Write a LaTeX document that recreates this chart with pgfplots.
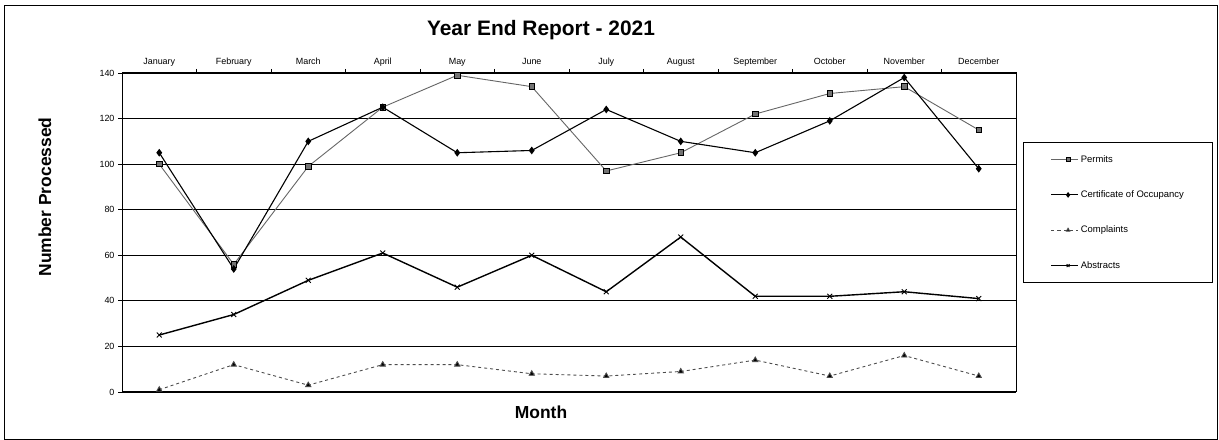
\documentclass[border=0pt]{standalone}
\usepackage{fontspec}
\setmainfont{Liberation Sans}
\usepackage{pgfplots}
\pgfplotsset{compat=1.18}
\begin{document}
\begin{tikzpicture}
\useasboundingbox (0bp,0bp) rectangle (1219bp,440bp);
\draw[line width=0.8bp] (4bp,1bp) rectangle (1217bp,435bp);
\node[font=\fontsize{21}{24}\selectfont\bfseries] at (541bp,410bp) {Year End Report - 2021};
\node[font=\fontsize{17.5}{20}\selectfont\bfseries, rotate=90] at (45bp,243bp) {Number Processed};
\node[font=\fontsize{17.5}{20}\selectfont\bfseries] at (541bp,28bp) {Month};
\begin{axis}[
  at={(122bp,48bp)}, anchor=south west,
  scale only axis, width=894bp, height=319bp,
  xmin=0.5, xmax=12.5, ymin=0, ymax=140,
  xtick={1,...,12},
  xticklabels={January,February,March,April,May,June,July,August,September,October,November,December},
  xticklabel pos=upper,
  xticklabel style={text height=7bp, text depth=2bp, yshift=-1bp},
  major x tick style={draw=none},
  minor xtick={1.5,2.5,...,11.5},
  xtick pos=upper,
  ytick={0,20,...,140}, ytick pos=left,
  tick align=outside,
  major tick length=4bp, minor tick length=4bp,
  tick style={black, line width=0.8bp},
  ymajorgrids,
  grid style={black, line width=0.9bp},
  axis line style={line width=1bp},
  tick label style={font=\fontsize{9}{10}\selectfont},
  /pgf/number format/assume math mode=true,
  legend style={at={(1.0078,0.7837)}, anchor=north west, draw=black, line width=0.8bp,
    font=\fontsize{9.5}{11}\selectfont, inner xsep=27bp, inner ysep=11bp, row sep=23bp},
  legend cell align=left,
  legend image code/.code={\path (0bp,0bp) -- (7bp,0bp);
    \draw[mark repeat=2,mark phase=2,mark size=2bp,#1] plot coordinates {(7bp,0bp) (17bp,0bp) (27bp,0bp)};},
]
\addplot[black!60, line width=0.9bp, mark=square*, mark size=2.8bp, mark options={solid, fill=black!55, draw=black}]
  coordinates {(1,100) (2,56) (3,99) (4,125) (5,139) (6,134) (7,97) (8,105) (9,122) (10,131) (11,134) (12,115)};
\addlegendentry{Permits}
\addplot[black, line width=1.1bp, mark=diamond*, mark size=3bp, mark options={solid, fill=black}]
  coordinates {(1,105) (2,54) (3,110) (4,125) (5,105) (6,106) (7,124) (8,110) (9,105) (10,119) (11,138) (12,98)};
\addlegendentry{Certificate of Occupancy}
\addplot[black!70, line width=0.9bp, dashed, mark=triangle*, mark size=3bp, mark options={solid, fill=black}]
  coordinates {(1,1) (2,12) (3,3) (4,12) (5,12) (6,8) (7,7) (8,9) (9,14) (10,7) (11,16) (12,7)};
\addlegendentry{Complaints}
\addplot[black, line width=1.4bp, mark=x, mark size=3.5bp, mark options={solid, line width=0.9bp}]
  coordinates {(1,25) (2,34) (3,49) (4,61) (5,46) (6,60) (7,44) (8,68) (9,42) (10,42) (11,44) (12,41)};
\addlegendentry{Abstracts}
\end{axis}
\end{tikzpicture}
\end{document}
